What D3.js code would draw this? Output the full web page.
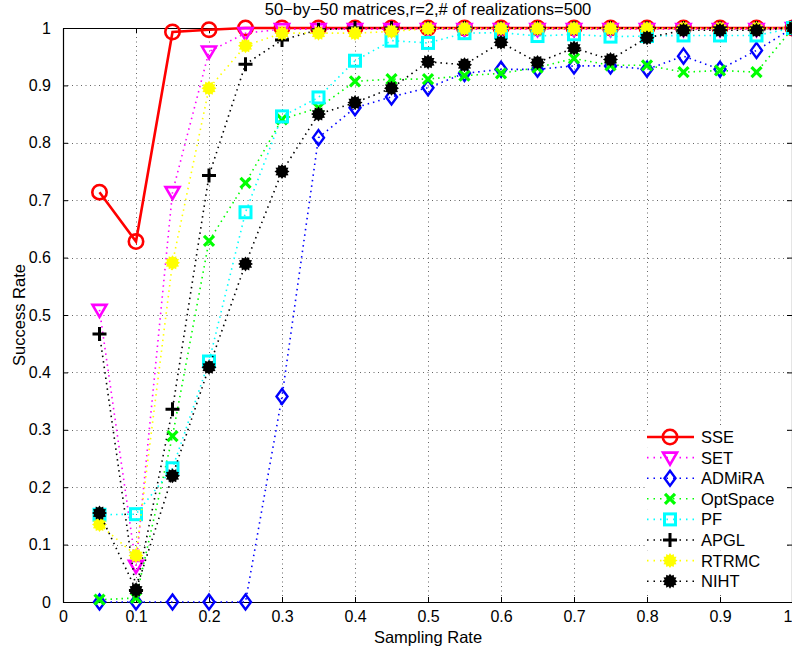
<!DOCTYPE html>
<html>
<head>
<meta charset="utf-8">
<script src="https://cdn.jsdelivr.net/npm/d3@7"></script>
<style>
  body { margin: 0; background: #fff; }
  svg { font-family: "Liberation Sans", Arial, Helvetica, sans-serif; }
</style>
</head>
<body>
<div id="chart"></div>
<script>
const rates = [0.05, 0.1, 0.15, 0.2, 0.25, 0.3, 0.35, 0.4, 0.45, 0.5,
               0.55, 0.6, 0.65, 0.7, 0.75, 0.8, 0.85, 0.9, 0.95, 1.0];

const sse      = [0.714, 0.628, 0.993, 0.997, 1.0, 1.0, 1.0, 1.0, 1.0, 1.0, 1.0, 1.0, 1.0, 1.0, 1.0, 1.0, 1.0, 1.0, 1.0, 1.0];
const set      = [0.509, 0.063, 0.714, 0.959, 0.991, 0.998, 0.998, 0.998, 0.998, 0.998, 0.998, 0.998, 0.998, 0.998, 0.998, 0.998, 0.998, 0.998, 0.998, 1.0];
const admira   = [0, 0, 0, 0, 0, 0.358, 0.809, 0.861, 0.880, 0.896, 0.921, 0.928, 0.928, 0.934, 0.934, 0.928, 0.951, 0.928, 0.961, 1.0];
const optspace = [0.004, 0.007, 0.289, 0.629, 0.730, 0.841, 0.861, 0.907, 0.911, 0.911, 0.917, 0.921, 0.931, 0.947, 0.935, 0.935, 0.923, 0.926, 0.923, 1.0];
const pf       = [0.152, 0.153, 0.233, 0.419, 0.679, 0.846, 0.879, 0.943, 0.978, 0.974, 0.991, 0.992, 0.986, 0.989, 0.985, 0.986, 0.987, 0.987, 0.987, 1.0];
const apgl     = [0.467, 0.02, 0.336, 0.743, 0.937, 0.979, 0.997, 1.0, 1.0, 1.0, 1.0, 1.0, 1.0, 1.0, 1.0, 1.0, 1.0, 1.0, 1.0, 1.0];
const rtrmc    = [0.135, 0.081, 0.591, 0.895, 0.969, 0.991, 0.991, 0.991, 0.994, 0.999, 0.999, 0.999, 0.999, 0.999, 0.999, 0.999, 0.999, 0.999, 0.999, 1.0];
const niht     = [0.155, 0.021, 0.220, 0.409, 0.589, 0.750, 0.850, 0.870, 0.895, 0.941, 0.936, 0.975, 0.940, 0.965, 0.945, 0.983, 0.996, 0.996, 0.996, 1.0];

const names  = ["SSE", "SET", "ADMiRA", "OptSpace", "PF", "APGL", "RTRMC", "NIHT"];
const values = [sse, set, admira, optspace, pf, apgl, rtrmc, niht];
const colors = ["#ff0000", "#ff00ff", "#0000ff", "#00ff00", "#00ffff", "#000000", "#ffff00", "#000000"];
const shapes = ["circle", "triangle", "diamond", "x", "square", "plus", "star", "star"];

const xTicks = [0, 0.1, 0.2, 0.3, 0.4, 0.5, 0.6, 0.7, 0.8, 0.9, 1];
const yTicks = [0, 0.1, 0.2, 0.3, 0.4, 0.5, 0.6, 0.7, 0.8, 0.9, 1];

const W = 792, H = 652;
const mLeft = 63, mTop = 28, mRight = 793, mBottom = 602;

const svg = d3.select("#chart").append("svg")
  .attr("width", W)
  .attr("height", H);

const x = d3.scaleLinear().domain([0, 1]).range([mLeft, mRight]);
const y = d3.scaleLinear().domain([0, 1]).range([mBottom, mTop]);

// grid
const grid = svg.append("g")
  .attr("stroke", "#666")
  .attr("stroke-width", 1)
  .attr("stroke-dasharray", "1,3.5");
grid.selectAll(".gx").data(xTicks.slice(1, -1)).enter().append("line")
  .attr("x1", d => Math.round(x(d)) + 0.5).attr("x2", d => Math.round(x(d)) + 0.5)
  .attr("y1", mTop).attr("y2", mBottom);
grid.selectAll(".gy").data(yTicks.slice(1, -1)).enter().append("line")
  .attr("y1", d => Math.round(y(d)) + 0.5).attr("y2", d => Math.round(y(d)) + 0.5)
  .attr("x1", mLeft).attr("x2", mRight);

// axes (ticks inside, box all round)
const tickFmt = d => d === 0 ? "0" : d === 1 ? "1" : d3.format(".1f")(d);

const axB = svg.append("g").attr("transform", `translate(0,${mBottom})`)
  .call(d3.axisBottom(x).tickValues(xTicks).tickFormat(tickFmt).tickSizeInner(-5).tickSizeOuter(0).tickPadding(9));
const axT = svg.append("g").attr("transform", `translate(0,${mTop})`)
  .call(d3.axisTop(x).tickValues(xTicks).tickFormat("").tickSizeInner(-5).tickSizeOuter(0));
const axL = svg.append("g").attr("transform", `translate(${mLeft},0)`)
  .call(d3.axisLeft(y).tickValues(yTicks).tickFormat(tickFmt).tickSizeInner(-5).tickSizeOuter(0).tickPadding(12));
const axR = svg.append("g").attr("transform", `translate(${mRight - 1},0)`)
  .call(d3.axisRight(y).tickValues(yTicks).tickFormat("").tickSizeInner(-5).tickSizeOuter(0));

[axB, axT, axL, axR].forEach(a => {
  a.selectAll("text").attr("font-size", 16).attr("fill", "#000")
    .attr("font-family", "'Liberation Sans', Arial, sans-serif");
  a.select(".domain").attr("stroke", "#000").attr("stroke-width", 1.2);
  a.selectAll(".tick line").attr("stroke", "#000");
});
// last x label sits at the window edge; keep it inside
axB.selectAll(".tick text").filter(d => d === 1).attr("text-anchor", "end").attr("dx", -1);

// markers
function drawMarker(g, shape, color, cx, cy) {
  if (shape === "circle") {
    g.append("circle").attr("cx", cx).attr("cy", cy).attr("r", 7.2)
      .attr("fill", "none").attr("stroke", color).attr("stroke-width", 2.6);
  } else if (shape === "triangle") {
    g.append("path").attr("d", `M${cx - 7},${cy - 5}L${cx + 7},${cy - 5}L${cx},${cy + 7}Z`)
      .attr("fill", "none").attr("stroke", color).attr("stroke-width", 2.6);
  } else if (shape === "diamond") {
    g.append("path").attr("d", `M${cx},${cy - 7.5}L${cx + 5.5},${cy}L${cx},${cy + 7.5}L${cx - 5.5},${cy}Z`)
      .attr("fill", "none").attr("stroke", color).attr("stroke-width", 2.4);
  } else if (shape === "square") {
    g.append("rect").attr("x", cx - 5.5).attr("y", cy - 5.5).attr("width", 11).attr("height", 11)
      .attr("fill", "none").attr("stroke", color).attr("stroke-width", 3);
  } else if (shape === "x") {
    g.append("path").attr("d", `M${cx - 5},${cy - 5}L${cx + 5},${cy + 5}M${cx - 5},${cy + 5}L${cx + 5},${cy - 5}`)
      .attr("stroke", color).attr("stroke-width", 3.2);
  } else if (shape === "plus") {
    g.append("path").attr("d", `M${cx - 7},${cy}L${cx + 7},${cy}M${cx},${cy - 7}L${cx},${cy + 7}`)
      .attr("stroke", color).attr("stroke-width", 3);
  } else if (shape === "star") {
    const pts = d3.range(24).map(i => {
      const a = i * Math.PI / 12;
      const r = i % 2 === 0 ? 7.5 : 5.6;
      return [cx + r * Math.sin(a), cy - r * Math.cos(a)];
    });
    g.append("path").attr("d", "M" + pts.join("L") + "Z").attr("fill", color).attr("stroke", "none");
  }
}

const line = d3.line().x(d => x(d[0])).y(d => y(d[1]));

names.forEach((name, i) => {
  const g = svg.append("g");
  const pts = rates.map((r, j) => [r, values[i][j]]);
  g.append("path").datum(pts).attr("d", line)
    .attr("fill", "none").attr("stroke", colors[i])
    .attr("stroke-width", i === 0 ? 2.6 : 1.6)
    .attr("stroke-dasharray", i === 0 ? null : "1.5,4");
  pts.forEach(p => drawMarker(g, shapes[i], colors[i], x(p[0]), y(p[1])));
});

// legend
const legend = svg.append("g");
names.forEach((name, i) => {
  const cy = 437 + i * 20.6;
  legend.append("rect").attr("x", 645).attr("y", cy - 10).attr("width", 142).attr("height", 20.6).attr("fill", "#fff");
});
names.forEach((name, i) => {
  const cy = 437 + i * 20.6;
  legend.append("line").attr("x1", 647).attr("x2", 694).attr("y1", cy).attr("y2", cy)
    .attr("stroke", colors[i]).attr("stroke-width", i === 0 ? 2.6 : 1.6)
    .attr("stroke-dasharray", i === 0 ? null : "1.5,5");
  drawMarker(legend, shapes[i], colors[i], 670, cy);
  legend.append("text").attr("x", 701).attr("y", cy + 6).attr("font-size", 16.5).text(name);
});

// title and labels
svg.append("text").attr("x", 428).attr("y", 15).attr("text-anchor", "middle")
  .attr("font-size", 16.5).text("50\u2212by\u221250 matrices,r=2,# of realizations=500");
svg.append("text").attr("x", 428).attr("y", 643).attr("text-anchor", "middle")
  .attr("font-size", 16.5).text("Sampling Rate");
svg.append("text").attr("transform", "translate(25,315) rotate(-90)").attr("text-anchor", "middle")
  .attr("font-size", 16.5).text("Success Rate");
</script>
</body>
</html>
